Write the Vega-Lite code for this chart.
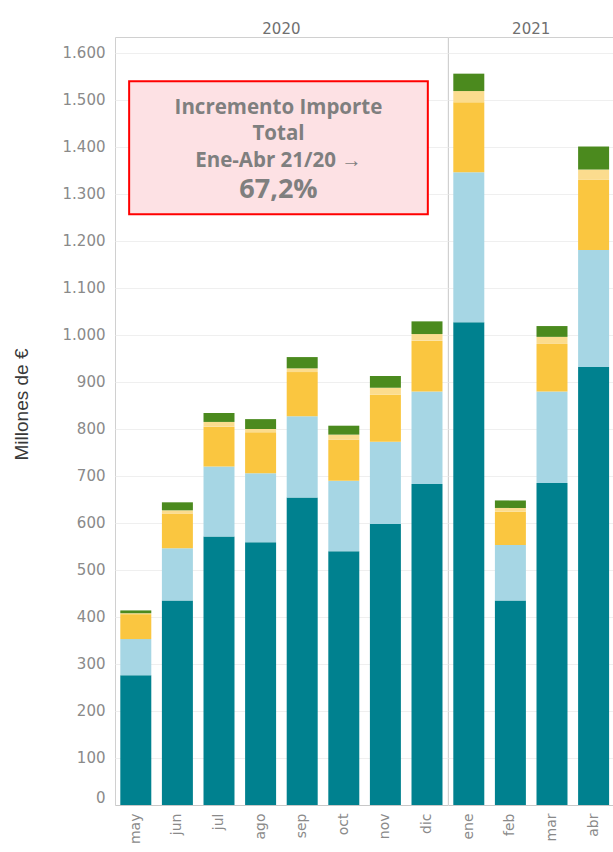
{
  "$schema": "https://vega.github.io/schema/vega-lite/v6.json",
  "padding": {"left": 12, "top": 22, "right": 0, "bottom": 0},
  "background": "white",
  "config": {
    "locale": {
      "number": {"decimal": ",", "thousands": ".", "grouping": [3], "currency": ["", " €"]},
      "time": {
        "dateTime": "%A, %e de %B de %Y, %X", "date": "%d/%m/%Y", "time": "%H:%M:%S", "periods": ["AM", "PM"],
        "days": ["domingo", "lunes", "martes", "miércoles", "jueves", "viernes", "sábado"],
        "shortDays": ["dom", "lun", "mar", "mié", "jue", "vie", "sáb"],
        "months": ["enero", "febrero", "marzo", "abril", "mayo", "junio", "julio", "agosto", "septiembre", "octubre", "noviembre", "diciembre"],
        "shortMonths": ["ene", "feb", "mar", "abr", "may", "jun", "jul", "ago", "sep", "oct", "nov", "dic"]
      }
    },
    "view": {"stroke": "#d0d0d0", "strokeWidth": 1},
    "font": "DejaVu Sans",
    "axis": {"labelFont": "DejaVu Sans", "titleFont": "Liberation Sans"}
  },
  "data": {
    "values": [
      {"tipo": "barra", "year": "2020", "mes": "2020-05", "serie": "1", "valor": 276},
      {"tipo": "barra", "year": "2020", "mes": "2020-05", "serie": "2", "valor": 77},
      {"tipo": "barra", "year": "2020", "mes": "2020-05", "serie": "3", "valor": 53},
      {"tipo": "barra", "year": "2020", "mes": "2020-05", "serie": "4", "valor": 2},
      {"tipo": "barra", "year": "2020", "mes": "2020-05", "serie": "5", "valor": 6},
      {"tipo": "barra", "year": "2020", "mes": "2020-06", "serie": "1", "valor": 435},
      {"tipo": "barra", "year": "2020", "mes": "2020-06", "serie": "2", "valor": 111},
      {"tipo": "barra", "year": "2020", "mes": "2020-06", "serie": "3", "valor": 74},
      {"tipo": "barra", "year": "2020", "mes": "2020-06", "serie": "4", "valor": 7},
      {"tipo": "barra", "year": "2020", "mes": "2020-06", "serie": "5", "valor": 17},
      {"tipo": "barra", "year": "2020", "mes": "2020-07", "serie": "1", "valor": 571},
      {"tipo": "barra", "year": "2020", "mes": "2020-07", "serie": "2", "valor": 149},
      {"tipo": "barra", "year": "2020", "mes": "2020-07", "serie": "3", "valor": 85},
      {"tipo": "barra", "year": "2020", "mes": "2020-07", "serie": "4", "valor": 10},
      {"tipo": "barra", "year": "2020", "mes": "2020-07", "serie": "5", "valor": 19},
      {"tipo": "barra", "year": "2020", "mes": "2020-08", "serie": "1", "valor": 559},
      {"tipo": "barra", "year": "2020", "mes": "2020-08", "serie": "2", "valor": 147},
      {"tipo": "barra", "year": "2020", "mes": "2020-08", "serie": "3", "valor": 87},
      {"tipo": "barra", "year": "2020", "mes": "2020-08", "serie": "4", "valor": 7},
      {"tipo": "barra", "year": "2020", "mes": "2020-08", "serie": "5", "valor": 21},
      {"tipo": "barra", "year": "2020", "mes": "2020-09", "serie": "1", "valor": 654},
      {"tipo": "barra", "year": "2020", "mes": "2020-09", "serie": "2", "valor": 173},
      {"tipo": "barra", "year": "2020", "mes": "2020-09", "serie": "3", "valor": 94},
      {"tipo": "barra", "year": "2020", "mes": "2020-09", "serie": "4", "valor": 8},
      {"tipo": "barra", "year": "2020", "mes": "2020-09", "serie": "5", "valor": 24},
      {"tipo": "barra", "year": "2020", "mes": "2020-10", "serie": "1", "valor": 540},
      {"tipo": "barra", "year": "2020", "mes": "2020-10", "serie": "2", "valor": 150},
      {"tipo": "barra", "year": "2020", "mes": "2020-10", "serie": "3", "valor": 87},
      {"tipo": "barra", "year": "2020", "mes": "2020-10", "serie": "4", "valor": 11},
      {"tipo": "barra", "year": "2020", "mes": "2020-10", "serie": "5", "valor": 19},
      {"tipo": "barra", "year": "2020", "mes": "2020-11", "serie": "1", "valor": 598},
      {"tipo": "barra", "year": "2020", "mes": "2020-11", "serie": "2", "valor": 175},
      {"tipo": "barra", "year": "2020", "mes": "2020-11", "serie": "3", "valor": 100},
      {"tipo": "barra", "year": "2020", "mes": "2020-11", "serie": "4", "valor": 15},
      {"tipo": "barra", "year": "2020", "mes": "2020-11", "serie": "5", "valor": 25},
      {"tipo": "barra", "year": "2020", "mes": "2020-12", "serie": "1", "valor": 683},
      {"tipo": "barra", "year": "2020", "mes": "2020-12", "serie": "2", "valor": 197},
      {"tipo": "barra", "year": "2020", "mes": "2020-12", "serie": "3", "valor": 108},
      {"tipo": "barra", "year": "2020", "mes": "2020-12", "serie": "4", "valor": 14},
      {"tipo": "barra", "year": "2020", "mes": "2020-12", "serie": "5", "valor": 27},
      {"tipo": "barra", "year": "2021", "mes": "2021-01", "serie": "1", "valor": 1027},
      {"tipo": "barra", "year": "2021", "mes": "2021-01", "serie": "2", "valor": 319},
      {"tipo": "barra", "year": "2021", "mes": "2021-01", "serie": "3", "valor": 149},
      {"tipo": "barra", "year": "2021", "mes": "2021-01", "serie": "4", "valor": 24},
      {"tipo": "barra", "year": "2021", "mes": "2021-01", "serie": "5", "valor": 37},
      {"tipo": "barra", "year": "2021", "mes": "2021-02", "serie": "1", "valor": 435},
      {"tipo": "barra", "year": "2021", "mes": "2021-02", "serie": "2", "valor": 118},
      {"tipo": "barra", "year": "2021", "mes": "2021-02", "serie": "3", "valor": 71},
      {"tipo": "barra", "year": "2021", "mes": "2021-02", "serie": "4", "valor": 8},
      {"tipo": "barra", "year": "2021", "mes": "2021-02", "serie": "5", "valor": 16},
      {"tipo": "barra", "year": "2021", "mes": "2021-03", "serie": "1", "valor": 685},
      {"tipo": "barra", "year": "2021", "mes": "2021-03", "serie": "2", "valor": 195},
      {"tipo": "barra", "year": "2021", "mes": "2021-03", "serie": "3", "valor": 101},
      {"tipo": "barra", "year": "2021", "mes": "2021-03", "serie": "4", "valor": 15},
      {"tipo": "barra", "year": "2021", "mes": "2021-03", "serie": "5", "valor": 23},
      {"tipo": "barra", "year": "2021", "mes": "2021-04", "serie": "1", "valor": 932},
      {"tipo": "barra", "year": "2021", "mes": "2021-04", "serie": "2", "valor": 249},
      {"tipo": "barra", "year": "2021", "mes": "2021-04", "serie": "3", "valor": 149},
      {"tipo": "barra", "year": "2021", "mes": "2021-04", "serie": "4", "valor": 22},
      {"tipo": "barra", "year": "2021", "mes": "2021-04", "serie": "5", "valor": 49},
      {"tipo": "nota", "year": "2020", "mes": "2020-05", "mes2": "2020-12", "mes_texto": "2020-08", "texto": "Incremento Importe\nTotal\nEne-Abr 21/20 →", "cifra": "67,2%"}
    ]
  },
  "facet": {
    "column": {
      "field": "year",
      "type": "ordinal",
      "header": {"title": null, "labelFontSize": 15, "labelColor": "#707070", "labelFont": "DejaVu Sans", "labelPadding": 0}
    }
  },
  "spacing": 0,
  "bounds": "flush",
  "resolve": {"scale": {"x": "independent"}},
  "spec": {
    "width": {"step": 41.6},
    "height": 768,
    "layer": [
      {
        "transform": [{"filter": "datum.tipo === 'barra'"}],
        "mark": {"type": "bar", "width": {"band": 0.745}},
        "encoding": {
          "x": {
            "field": "mes", "type": "ordinal", "title": null,
            "scale": {"paddingInner": 0, "paddingOuter": 0},
            "axis": {"labelExpr": "utcFormat(toDate(datum.value + '-15'), '%b')", "labelAngle": -90, "labelFontSize": 14, "labelColor": "#8a8a8a", "labelPadding": 8, "ticks": false, "domainColor": "#c8c8c8", "grid": false}
          },
          "y": {
            "field": "valor", "type": "quantitative", "stack": "zero", "title": "Millones de €",
            "scale": {"domain": [0, 1634], "nice": false},
            "axis": {"values": [0, 100, 200, 300, 400, 500, 600, 700, 800, 900, 1000, 1100, 1200, 1300, 1400, 1500, 1600], "format": ",d", "labelFontSize": 15, "labelColor": "#8a8a8a", "labelPadding": 10, "ticks": false, "domain": false, "gridColor": "#efefef", "labelFlush": true, "titleFontSize": 19, "titleColor": "#383838", "titleFontWeight": "normal", "titlePadding": 31, "titleY": 367}
          },
          "color": {
            "field": "serie", "type": "nominal", "legend": null,
            "scale": {"domain": ["1", "2", "3", "4", "5"], "range": ["#00818f", "#a6d6e4", "#fac640", "#fbdc8e", "#4b8a1e"]}
          },
          "order": {"field": "serie", "type": "ordinal", "sort": "ascending"}
        }
      },
      {
        "transform": [{"filter": "datum.tipo === 'nota'"}],
        "mark": {"type": "rect", "fill": "#fde1e4", "stroke": "#ff0000", "strokeWidth": 2},
        "encoding": {
          "x": {"field": "mes", "type": "ordinal", "title": null, "bandPosition": 0.34},
          "x2": {"field": "mes2", "bandPosition": 0.52},
          "y": {"datum": 1540, "type": "quantitative"},
          "y2": {"datum": 1257}
        }
      },
      {
        "transform": [{"filter": "datum.tipo === 'nota'"}],
        "mark": {"type": "text", "font": "Open Sans", "fontWeight": "bold", "fontSize": 20.5, "color": "#7f7f7f", "lineBreak": "\n", "lineHeight": 26.5, "baseline": "middle", "align": "center"},
        "encoding": {
          "x": {"field": "mes_texto", "type": "ordinal", "title": null, "bandPosition": 0.93},
          "y": {"datum": 1484, "type": "quantitative"},
          "text": {"field": "texto"}
        }
      },
      {
        "transform": [{"filter": "datum.tipo === 'nota'"}],
        "mark": {"type": "text", "font": "Open Sans", "fontWeight": "bold", "fontSize": 27, "color": "#7f7f7f", "baseline": "middle", "align": "center"},
        "encoding": {
          "x": {"field": "mes_texto", "type": "ordinal", "title": null, "bandPosition": 0.93},
          "y": {"datum": 1309, "type": "quantitative"},
          "text": {"field": "cifra"}
        }
      }
    ]
  }
}
